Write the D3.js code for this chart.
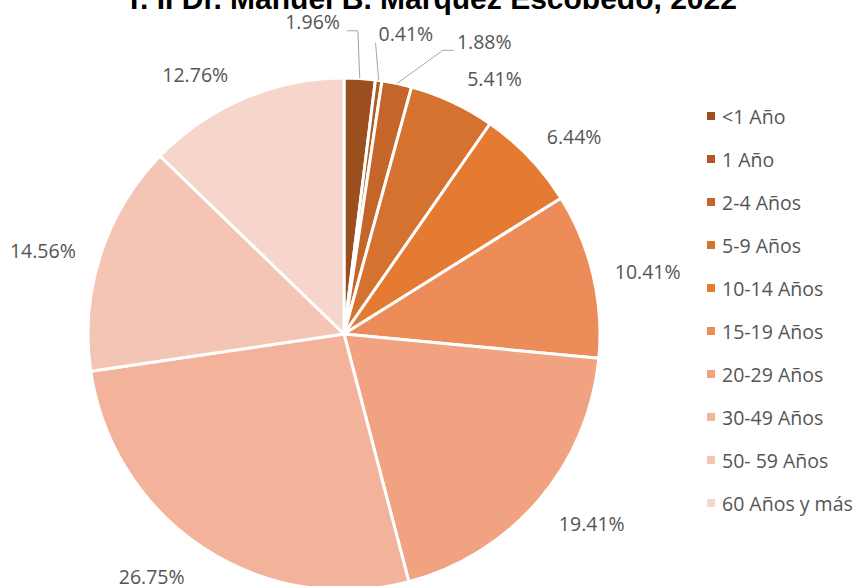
<!DOCTYPE html>
<html>
<head>
<meta charset="utf-8">
<script src="https://cdn.jsdelivr.net/npm/d3@7"></script>
<style>
  body { margin: 0; background: #fff; }
  svg { display: block; }
</style>
</head>
<body>
<svg></svg>
<script>
let title = "T. II Dr. Manuel B. Marquez Escobedo, 2022"
let categories = ["<1 Año", "1 Año", "2-4 Años", "5-9 Años", "10-14 Años", "15-19 Años", "20-29 Años", "30-49 Años", "50- 59 Años", "60 Años y más"]
let values = [1.96, 0.41, 1.88, 5.41, 6.44, 10.41, 19.41, 26.75, 14.56, 12.76]
let colors = ["#9c4f1e", "#b3591f", "#c4662a", "#d5722f", "#e57a32", "#ec8c58", "#f0a281", "#f3b39b", "#f4c4b5", "#f6d5ca"]

// label nudges (layout only), applied after the default outside-end placement
let labelNudge = [[-50, -32], [21, -22], [78, -18], [23, -1], [12, -4], [5, 2], [14, 8], [-23, 8], [-9, 3], [-29, -1]]

let width = 859
let height = 586
let cx = 344
let cy = 334
let radius = 256
let font = "'Open Sans', sans-serif"

let svg = d3.select("svg")
    .attr("width", width)
    .attr("height", height)

// title, mostly cut off at the top edge
svg.append("text")
    .attr("x", 431)
    .attr("y", 9)
    .attr("text-anchor", "middle")
    .style("font-family", "'Liberation Sans', Arial, sans-serif")
    .style("font-weight", "bold")
    .style("font-size", "30px")
    .style("fill", "#000")
    .text(title)

let pie = d3.pie().sort(null).value(d => d)
let arcs = pie(values)

let arc = d3.arc().innerRadius(0).outerRadius(radius)

let g = svg.append("g").attr("transform", "translate(" + cx + "," + cy + ")")

g.selectAll("path.slice")
    .data(arcs)
    .enter()
    .append("path")
    .attr("class", "slice")
    .attr("d", arc)
    .attr("fill", (d, i) => colors[i])
    .attr("stroke", "#fff")
    .attr("stroke-width", 3)
    .attr("stroke-linejoin", "round")

// data labels
let labels = g.selectAll("text.lbl")
    .data(arcs)
    .enter()
    .append("text")
    .attr("class", "lbl")
    .attr("text-anchor", "middle")
    .attr("dominant-baseline", "central")
    .style("font-family", font)
    .style("font-size", "19.5px")
    .style("fill", "#555")
    .text(d => d.value.toFixed(2) + "%")

let gap = 18
labels.each(function (d, i) {
    let a = (d.startAngle + d.endAngle) / 2
    let box = this.getBBox()
    let ax = (radius + gap) * Math.sin(a)
    let ay = -(radius + gap) * Math.cos(a)
    let x = ax + box.width / 2 * Math.sin(a) + labelNudge[i][0]
    let y = ay - box.height / 4 * Math.cos(a) + labelNudge[i][1]
    d3.select(this).attr("x", x).attr("y", y)
    d.lx = x
    d.ly = y
    d.lw = box.width
})

// leader lines for the thin slices
g.selectAll("polyline.leader")
    .data(arcs.filter(d => d.value < 2.5))
    .enter()
    .insert("polyline", "text.lbl")
    .attr("class", "leader")
    .attr("fill", "none")
    .attr("stroke", "#a6a6a6")
    .attr("stroke-width", 1)
    .attr("points", d => {
        let a = (d.startAngle + d.endAngle) / 2
        let sx = radius * Math.sin(a)
        let sy = -radius * Math.cos(a)
        let onLeft = d.lx < sx
        let ex = onLeft ? d.lx + d.lw / 2 + 7 : d.lx - d.lw / 2 - 3
        let ey = d.ly + 9
        let bx = onLeft ? ex + 11 : ex - 11
        if (!onLeft && bx < sx) bx = ex
        return [[sx, sy], [bx, ey], [ex, ey]].map(p => p.join(",")).join(" ")
    })

// legend
let legend = svg.append("g")
    .selectAll("g")
    .data(categories)
    .enter()
    .append("g")
    .attr("transform", (d, i) => "translate(707," + (116 + i * 43) + ")")

legend.append("rect")
    .attr("x", 0)
    .attr("y", -4)
    .attr("width", 8)
    .attr("height", 8)
    .attr("fill", (d, i) => colors[i])

legend.append("text")
    .attr("x", 15)
    .attr("y", 0)
    .attr("dominant-baseline", "central")
    .style("font-family", font)
    .style("font-size", "19.5px")
    .style("fill", "#555")
    .text(d => d)
</script>
</body>
</html>
